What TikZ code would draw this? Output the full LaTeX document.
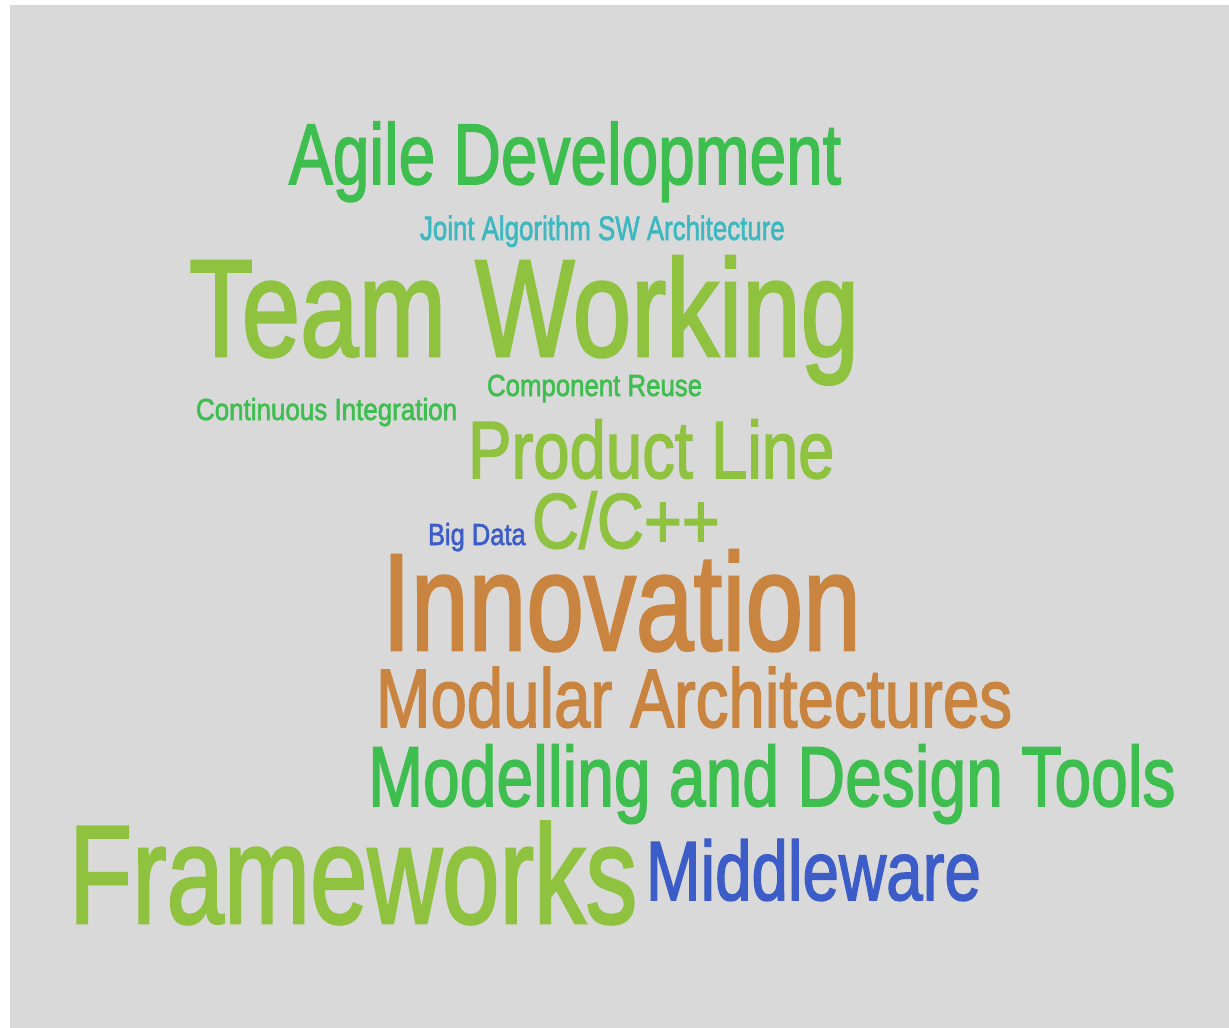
\documentclass[tikz,border=0pt]{standalone}
\usepackage{fontspec}
\setmainfont{Liberation Sans}
\newfontfamily\wcfont{Liberation Sans}[RawFeature={embolden=2}]
\definecolor{bggray}{RGB}{217,217,217}
\definecolor{cgreen}{RGB}{61,190,78}
\definecolor{clime}{RGB}{143,194,63}
\definecolor{cteal}{RGB}{60,184,192}
\definecolor{cblue}{RGB}{60,93,200}
\definecolor{corange}{RGB}{201,133,64}
\newcommand{\wcword}[3]{\scalebox{#2}[1]{\fontsize{#1pt}{#1pt}\wcfont #3}}
\tikzset{word/.style={anchor=base west, inner sep=0pt, outer sep=0pt}}
\begin{document}
\begin{tikzpicture}[x=1pt,y=-1pt]
\useasboundingbox (0,0) rectangle (1229,1028);
\fill[white] (0,0) rectangle (1229,1028);
\fill[bggray] (10,5) rectangle (1229,1028);
\node[word, text=cgreen]  (agile)  at (289,184) {\wcword{86}{0.765}{Agile Development}};
\node[word, text=cteal]   (joint)  at (420,240) {\wcword{34}{0.76}{Joint Algorithm SW Architecture}};
\node[word, text=clime]   (team)   at (189,356) {\wcword{138}{0.762}{Team Working}};
\node[word, text=cgreen]  (reuse)  at (487,396) {\wcword{30.5}{0.846}{Component Reuse}};
\node[word, text=cgreen]  (ci)     at (196,420) {\wcword{30.5}{0.851}{Continuous Integration}};
\node[word, text=clime]   (pline)  at (468,478) {\wcword{81}{0.806}{Product Line}};
\node[word, text=clime]   (cpp)    at (532,548) {\wcword{78}{0.833}{C/C++}};
\node[word, text=cblue]   (big)    at (428,545) {\wcword{30.5}{0.835}{Big Data}};
\node[word, text=corange] (innov)  at (382,650) {\wcword{138}{0.752}{Innovation}};
\node[word, text=corange] (modarch) at (376,727) {\wcword{83}{0.788}{Modular Architectures}};
\node[word, text=cgreen]  (model)  at (368,806) {\wcword{85}{0.777}{Modelling and Design Tools}};
\node[word, text=clime]   (frame)  at (69,923) {\wcword{140}{0.738}{Frameworks}};
\node[word, text=cblue]   (middle) at (646,900) {\wcword{84}{0.78}{Middleware}};
\end{tikzpicture}
\end{document}
